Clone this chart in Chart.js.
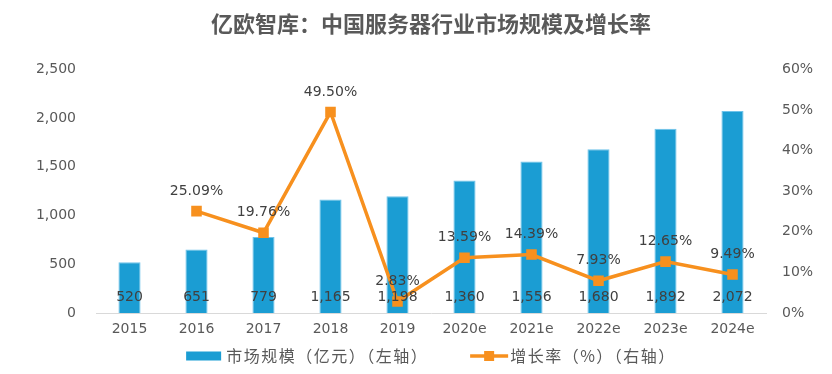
<!DOCTYPE html>
<html>
<head>
<meta charset="utf-8">
<script src="https://cdn.jsdelivr.net/npm/chart.js@4.4.0/dist/chart.umd.min.js"></script>
<style>
  html, body { margin: 0; padding: 0; background: #fff; }
  #wrap { width: 832px; height: 374px; }
</style>
</head>
<body>
<div id="wrap"><canvas id="chart" width="832" height="374"></canvas></div>
<script>
// Chart data
const years = ['2015', '2016', '2017', '2018', '2019', '2020e', '2021e', '2022e', '2023e', '2024e'];
const marketSize = [520, 651, 779, 1165, 1198, 1360, 1556, 1680, 1892, 2072];
const growthRate = [null, 25.09, 19.76, 49.50, 2.83, 13.59, 14.39, 7.93, 12.65, 9.49];

const BAR_COLOR = '#1b9dd3';
const LINE_COLOR = '#f7901e';
const TEXT_COLOR = '#595959';
const NUM_FONT = '"DejaVu Sans", Verdana, sans-serif';
const CJK_FONT = '"Noto Sans CJK SC", sans-serif';

// Value labels on bars and line points
const valueLabels = {
  id: 'valueLabels',
  afterDatasetsDraw(chart) {
    const ctx = chart.ctx;
    ctx.save();
    ctx.font = '14px ' + NUM_FONT;
    ctx.fillStyle = '#404040';
    ctx.textAlign = 'center';
    ctx.textBaseline = 'middle';

    const yScale = chart.scales.y;
    chart.getDatasetMeta(1).data.forEach((bar, i) => {
      ctx.fillText(marketSize[i].toLocaleString('en-US'), bar.x, yScale.getPixelForValue(0) - 16);
    });

    chart.getDatasetMeta(0).data.forEach((pt, i) => {
      if (growthRate[i] === null) return;
      ctx.fillText(growthRate[i].toFixed(2) + '%', pt.x, pt.y - 20);
    });
    ctx.restore();
  }
};

// Bottom legend (bar swatch, then line with square marker)
const bottomLegend = {
  id: 'bottomLegend',
  afterDraw(chart) {
    const ctx = chart.ctx;
    const text1 = chart.data.datasets[1].label;
    const text2 = chart.data.datasets[0].label;
    ctx.save();
    ctx.font = '16px ' + CJK_FONT;
    ctx.letterSpacing = '1.5px';
    const w1 = ctx.measureText(text1).width;
    const w2 = ctx.measureText(text2).width;
    const total = 35 + 5 + w1 + 42 + 38 + 2 + w2;
    const area = chart.chartArea;
    let x = (area.left + area.right) / 2 - total / 2;
    const y = 356;

    ctx.fillStyle = BAR_COLOR;
    ctx.fillRect(x, y - 4.5, 35, 9);
    x += 40;
    ctx.fillStyle = TEXT_COLOR;
    ctx.textBaseline = 'middle';
    ctx.fillText(text1, x, y);
    x += w1 + 42;

    ctx.strokeStyle = LINE_COLOR;
    ctx.lineWidth = 3.5;
    ctx.beginPath();
    ctx.moveTo(x, y);
    ctx.lineTo(x + 38, y);
    ctx.stroke();
    ctx.fillStyle = LINE_COLOR;
    ctx.fillRect(x + 14, y - 5, 10, 10);
    x += 40;
    ctx.fillStyle = TEXT_COLOR;
    ctx.fillText(text2, x, y);
    ctx.restore();
  }
};

new Chart(document.getElementById('chart'), {
  data: {
    labels: years,
    datasets: [
      {
        type: 'line',
        label: '增长率（%）（右轴）',
        data: growthRate,
        yAxisID: 'y1',
        borderColor: LINE_COLOR,
        backgroundColor: LINE_COLOR,
        borderWidth: 3.5,
        pointStyle: 'rect',
        pointRadius: 5,
        pointHoverRadius: 5,
        tension: 0,
        order: 0
      },
      {
        type: 'bar',
        label: '市场规模（亿元）（左轴）',
        data: marketSize,
        yAxisID: 'y',
        backgroundColor: BAR_COLOR,
        borderColor: '#6fc3ea',
        borderWidth: 1,
        barPercentage: 0.66,
        categoryPercentage: 0.5,
        order: 1
      }
    ]
  },
  options: {
    responsive: false,
    animation: false,
    layout: { padding: { left: 0, right: 0, top: 0, bottom: 34 } },
    scales: {
      x: {
        grid: { display: false, drawTicks: false },
        border: { display: true, color: '#d9d9d9', width: 1 },
        ticks: { color: TEXT_COLOR, font: { family: NUM_FONT, size: 14 }, padding: 8 },
        afterFit: (scale) => { scale.height = 27; }
      },
      y: {
        position: 'left',
        min: 0,
        max: 2500,
        grid: { display: false, drawTicks: false },
        border: { display: false },
        ticks: {
          stepSize: 500,
          color: TEXT_COLOR,
          font: { family: NUM_FONT, size: 14 },
          padding: 20,
          callback: (v) => v.toLocaleString('en-US')
        },
        afterFit: (scale) => { scale.width = 96; }
      },
      y1: {
        position: 'right',
        min: 0,
        max: 60,
        grid: { display: false, drawTicks: false },
        border: { display: false },
        ticks: {
          stepSize: 10,
          color: TEXT_COLOR,
          font: { family: NUM_FONT, size: 14 },
          padding: 16,
          callback: (v) => v + '%'
        },
        afterFit: (scale) => { scale.width = 66; }
      }
    },
    plugins: {
      title: {
        display: true,
        fullSize: false,
        text: '亿欧智库：中国服务器行业市场规模及增长率',
        color: TEXT_COLOR,
        font: { family: CJK_FONT, size: 22, weight: 'bold' },
        padding: { top: 10, bottom: 33 }
      },
      legend: { display: false },
      tooltip: { enabled: false }
    }
  },
  plugins: [valueLabels, bottomLegend]
});
</script>
</body>
</html>
